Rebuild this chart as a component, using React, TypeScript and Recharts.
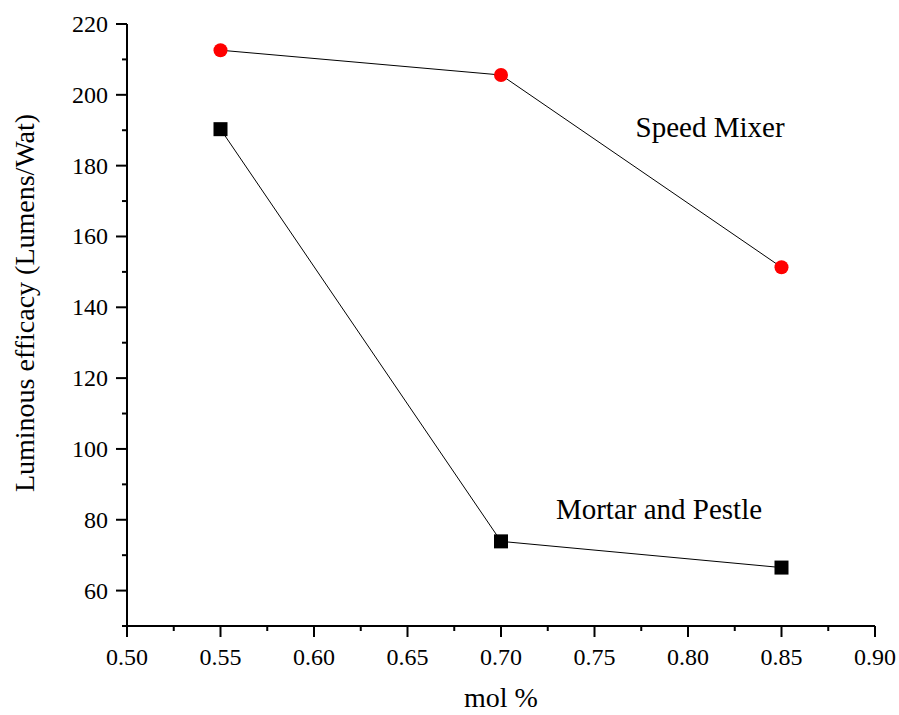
import React from "react";
import { LineChart, Line, XAxis, YAxis, ReferenceDot, Label } from "recharts";

const molPercent = [0.55, 0.7, 0.85];
const speedMixer = [212.6, 205.6, 151.3];
const mortarPestle = [190.3, 73.9, 66.5];
const xTicks = [0.5, 0.525, 0.55, 0.575, 0.6, 0.625, 0.65, 0.675, 0.7, 0.725, 0.75, 0.775, 0.8, 0.825, 0.85, 0.875, 0.9];
const yTicks = [50, 60, 70, 80, 90, 100, 110, 120, 130, 140, 150, 160, 170, 180, 190, 200, 210, 220];

const data = molPercent.map((m, i) => ({ x: m, speed: speedMixer[i], mortar: mortarPestle[i] }));

const FONT = "Liberation Serif";
const FS = 24;
const LFS = 28;
const AFS = 29;

const XTick = (props: any) => {
  const { x, y, payload } = props;
  const v = payload.value;
  const major = Math.abs(v * 20 - Math.round(v * 20)) < 1e-6;
  return (
    <g>
      <line x1={x} y1={y} x2={x} y2={y + (major ? 11 : 5)} stroke="#000" strokeWidth={2} />
      {major && (
        <text x={x} y={y + 39} textAnchor="middle" style={{ fontFamily: FONT, fontSize: FS }} fill="#000">
          {v.toFixed(2)}
        </text>
      )}
    </g>
  );
};

const YTick = (props: any) => {
  const { x, y, payload } = props;
  const v = payload.value;
  const major = v % 20 === 0;
  return (
    <g>
      <line x1={x - (major ? 11 : 5)} y1={y} x2={x} y2={y} stroke="#000" strokeWidth={2} />
      {major && (
        <text x={x - 19} y={y + 8} textAnchor="end" style={{ fontFamily: FONT, fontSize: FS }} fill="#000">
          {v}
        </text>
      )}
    </g>
  );
};

const SquareDot = (props: any) => {
  const { cx, cy } = props;
  if (cx == null || cy == null) return null;
  return <rect x={cx - 7} y={cy - 7} width={14} height={14} fill="#000" />;
};

export default function App() {
  return (
    <div style={{ position: "absolute", left: 0, top: 0, background: "#fff", fontFamily: FONT }}>
      <LineChart width={899} height={715} data={data} margin={{ top: 24, right: 24, left: 0, bottom: 0 }} style={{ fontFamily: FONT }}>
        <XAxis
          dataKey="x"
          type="number"
          domain={[0.5, 0.9]}
          ticks={xTicks}
          interval={0}
          tick={<XTick />}
          tickLine={false}
          tickSize={0}
          tickMargin={0}
          height={89}
          axisLine={{ stroke: "#000", strokeWidth: 2 }}
        >
          <Label value="mol %" position="center" dy={27} style={{ fontFamily: FONT, fontSize: LFS, fill: "#000" }} />
        </XAxis>
        <YAxis
          type="number"
          domain={[50, 220]}
          ticks={yTicks}
          interval={0}
          tick={<YTick />}
          tickLine={false}
          tickSize={0}
          tickMargin={0}
          width={127}
          axisLine={{ stroke: "#000", strokeWidth: 2 }}
        >
          <Label
            value="Luminous efficacy (Lumens/Wat)"
            angle={-90}
            position="center"
            dx={-39}
            dy={-22}
            style={{ fontFamily: FONT, fontSize: LFS, fill: "#000", textAnchor: "middle" }}
          />
        </YAxis>
        <Line
          dataKey="speed"
          stroke="#000"
          strokeWidth={1}
          dot={{ r: 7, fill: "#ff0000", stroke: "none" }}
          activeDot={false}
          isAnimationActive={false}
        />
        <Line
          dataKey="mortar"
          stroke="#000"
          strokeWidth={1}
          dot={<SquareDot />}
          activeDot={false}
          isAnimationActive={false}
        />
        <ReferenceDot x={0.8118} y={191} r={0} fill="none" stroke="none">
          <Label value="Speed Mixer" position="center" style={{ fontFamily: FONT, fontSize: AFS, fill: "#000" }} />
        </ReferenceDot>
        <ReferenceDot x={0.7845} y={83.2} r={0} fill="none" stroke="none">
          <Label value="Mortar and Pestle" position="center" style={{ fontFamily: FONT, fontSize: AFS, fill: "#000" }} />
        </ReferenceDot>
      </LineChart>
    </div>
  );
}
